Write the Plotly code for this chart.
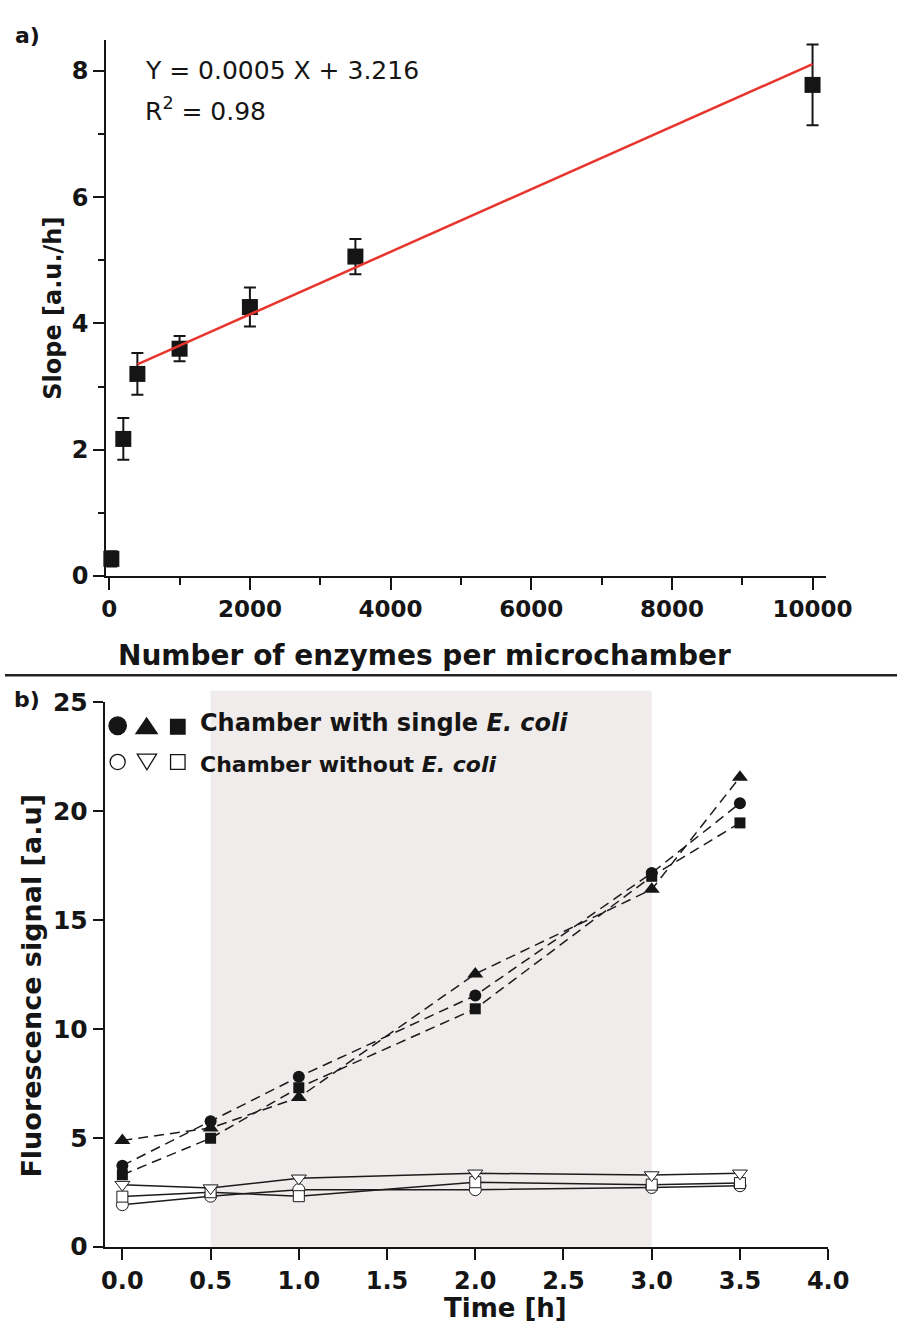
import plotly.graph_objects as go

# ---------------- data: panel a ----------------
enzymes = [30, 200, 400, 1000, 2000, 3500, 10000]
slope = [0.27, 2.17, 3.20, 3.60, 4.26, 5.06, 7.78]
slope_err = [0.12, 0.33, 0.33, 0.20, 0.31, 0.28, 0.64]
fit_x = [400, 10000]
fit_y = [3.35, 8.11]
x_ticks_a = [0, 2000, 4000, 6000, 8000, 10000]
x_ticktext_a = ["0", "2000", "4000", "6000", "8000", "10000"]
y_ticks_a = [0, 2, 4, 6, 8]

# ---------------- data: panel b ----------------
time_h = [0.0, 0.5, 1.0, 2.0, 3.0, 3.5]
with_circle = [3.72, 5.76, 7.80, 11.53, 17.15, 20.35]
with_triangle = [4.88, 5.45, 6.85, 12.52, 16.40, 21.55]
with_square = [3.30, 4.98, 7.30, 10.92, 17.00, 19.45]
without_circle = [1.93, 2.32, 2.62, 2.62, 2.72, 2.80]
without_triangle = [2.85, 2.69, 3.14, 3.37, 3.29, 3.37]
without_square = [2.30, 2.50, 2.32, 2.96, 2.85, 2.92]
shade_start, shade_end = 0.5, 3.0
x_ticks_b = [0.0, 0.5, 1.0, 1.5, 2.0, 2.5, 3.0, 3.5, 4.0]
y_ticks_b = [0, 5, 10, 15, 20, 25]

W, H = 924, 1340
INK = "#151515"
FONT = "DejaVu Sans"


def px(x):
    return x / W


def py(y):
    return 1 - y / H


fig = go.Figure()

# ---- panel a ----
fig.add_trace(go.Scatter(
    x=enzymes, y=slope, mode="markers", xaxis="x", yaxis="y",
    marker=dict(symbol="square", size=16, color=INK),
    error_y=dict(type="data", array=slope_err, color=INK, thickness=2, width=6),
    cliponaxis=False, showlegend=False))
fig.add_trace(go.Scatter(
    x=fit_x, y=fit_y, mode="lines", xaxis="x", yaxis="y",
    line=dict(color="#e8342b", width=2.5), showlegend=False))

# ---- panel b ----
line_c = "#1c1c1c"
for ys, sym in [(without_circle, "circle"), (without_square, "square"),
                (without_triangle, "triangle-down")]:
    size = {"circle": 12, "square": 11, "triangle-down": 13}[sym]
    fig.add_trace(go.Scatter(
        x=time_h, y=ys, mode="lines+markers", xaxis="x2", yaxis="y2",
        line=dict(color=line_c, width=1.5),
        marker=dict(symbol=sym, size=size, color="white",
                    line=dict(color=line_c, width=1)),
        showlegend=False))
for ys, sym in [(with_square, "square"), (with_triangle, "triangle-up"),
                (with_circle, "circle")]:
    size = {"circle": 12, "square": 11, "triangle-up": 14}[sym]
    fig.add_trace(go.Scatter(
        x=time_h, y=ys, mode="lines+markers", xaxis="x2", yaxis="y2",
        line=dict(color=line_c, width=1.5, dash="10px,6px"),
        marker=dict(symbol=sym, size=size, color=INK),
        showlegend=False))

axis_common = dict(showgrid=False, zeroline=False, showline=True,
                   linewidth=2, linecolor=INK, ticks="outside",
                   tickwidth=2, tickcolor=INK)

fig.update_layout(
    width=W, height=H, margin=dict(l=0, r=0, t=0, b=0),
    paper_bgcolor="white", plot_bgcolor="rgba(0,0,0,0)",
    xaxis=dict(domain=[px(105), px(850)], range=[-41, 10185], anchor="y",
               tickmode="array", tickvals=x_ticks_a, ticktext=x_ticktext_a,
               ticklen=12,
               minor=dict(dtick=1000, tick0=0, ticklen=7, tickwidth=2,
                          tickcolor=INK, ticks="outside"),
               tickfont=dict(family=FONT, size=23, color=INK, weight="bold"),
               **axis_common),
    yaxis=dict(domain=[py(574.3), py(26.7)], range=[0, 8.49], anchor="x",
               tickmode="array", tickvals=y_ticks_a, ticklen=11,
               minor=dict(dtick=1, tick0=0, ticklen=6, tickwidth=2,
                          tickcolor=INK, ticks="outside"),
               tickfont=dict(family=FONT, size=24, color=INK, weight="bold"),
               **axis_common),
    xaxis2=dict(domain=[px(103.3), px(852.7)], range=[-0.1, 4.0], anchor="y2",
                tickmode="array", tickvals=x_ticks_b, tickformat=".1f",
                ticklen=11,
                tickfont=dict(family=FONT, size=24, color=INK, weight="bold"),
                **axis_common),
    yaxis2=dict(domain=[py(1260), py(703.2)], range=[0, 25], anchor="x2",
                tickmode="array", tickvals=y_ticks_b, ticklen=10,
                tickfont=dict(family=FONT, size=25, color=INK, weight="bold"),
                **axis_common),
)

shapes = [
    # shaded incubation window
    dict(type="rect", xref="x2", yref="paper", x0=shade_start, x1=shade_end,
         y0=py(1260), y1=py(691.7), fillcolor="#efeceb", line=dict(width=0),
         layer="below"),
    # separator between panels
    dict(type="line", xref="paper", yref="paper", x0=0, x1=1,
         y0=py(676), y1=py(676), line=dict(color="#222", width=2.5)),
]


# legend keys (drawn in pixel space)
def circ(cx, cy, r, filled):
    return dict(type="circle", xref="paper", yref="paper",
                x0=px(cx - r), x1=px(cx + r), y0=py(cy + r), y1=py(cy - r),
                fillcolor=INK if filled else "white",
                line=dict(color=INK, width=1.3))


def tri(cx, cy, hw, hh, up, filled):
    if up:
        pts = [(cx - hw, cy + hh), (cx + hw, cy + hh), (cx, cy - hh)]
    else:
        pts = [(cx - hw, cy - hh), (cx + hw, cy - hh), (cx, cy + hh)]
    path = "M " + " L ".join(f"{px(a):.5f},{py(b):.5f}" for a, b in pts) + " Z"
    return dict(type="path", xref="paper", yref="paper", path=path,
                fillcolor=INK if filled else "white",
                line=dict(color=INK, width=1.3))


def sq(cx, cy, h, filled):
    return dict(type="rect", xref="paper", yref="paper",
                x0=px(cx - h), x1=px(cx + h), y0=py(cy + h), y1=py(cy - h),
                fillcolor=INK if filled else "white",
                line=dict(color=INK, width=1.3))


shapes += [
    circ(116.7, 727.5, 9, True), tri(146.7, 727.5, 11, 8, True, True),
    sq(179, 728.5, 7.5, True),
    circ(116.7, 764.5, 7.8, False), tri(147, 764.5, 10, 8, False, False),
    sq(179, 764.5, 7.5, False),
]
fig.update_layout(shapes=shapes)


def ann(text, x, y, size, bold=True, xanchor="center", angle=0):
    return dict(text=text, x=px(x), y=py(y), xref="paper", yref="paper",
                showarrow=False, xanchor=xanchor, yanchor="middle",
                textangle=angle,
                font=dict(family=FONT, size=size, color=INK,
                          weight="bold" if bold else "normal"))


fig.update_layout(annotations=[
    ann("a)", 23, 22, 22),
    ann("b)", 23, 701, 22),
    ann("Y = 0.0005 X + 3.216", 143, 58, 25, bold=False, xanchor="left"),
    ann("R<sup>2</sup> = 0.98", 143, 98, 25, bold=False, xanchor="left"),
    ann("Slope [a.u./h]", 50, 301, 24, angle=-90),
    ann("Number of enzymes per microchamber", 435, 656, 28),
    ann("Fluorescence signal [a.u]", 27, 993, 27, angle=-90),
    ann("Time [h]", 518, 1323, 26),
    ann("Chamber with single <i>E. coli</i>", 200, 725, 24, xanchor="left"),
    ann("Chamber without <i>E. coli</i>", 200, 767, 22, xanchor="left"),
])

fig.write_html("out.html")
